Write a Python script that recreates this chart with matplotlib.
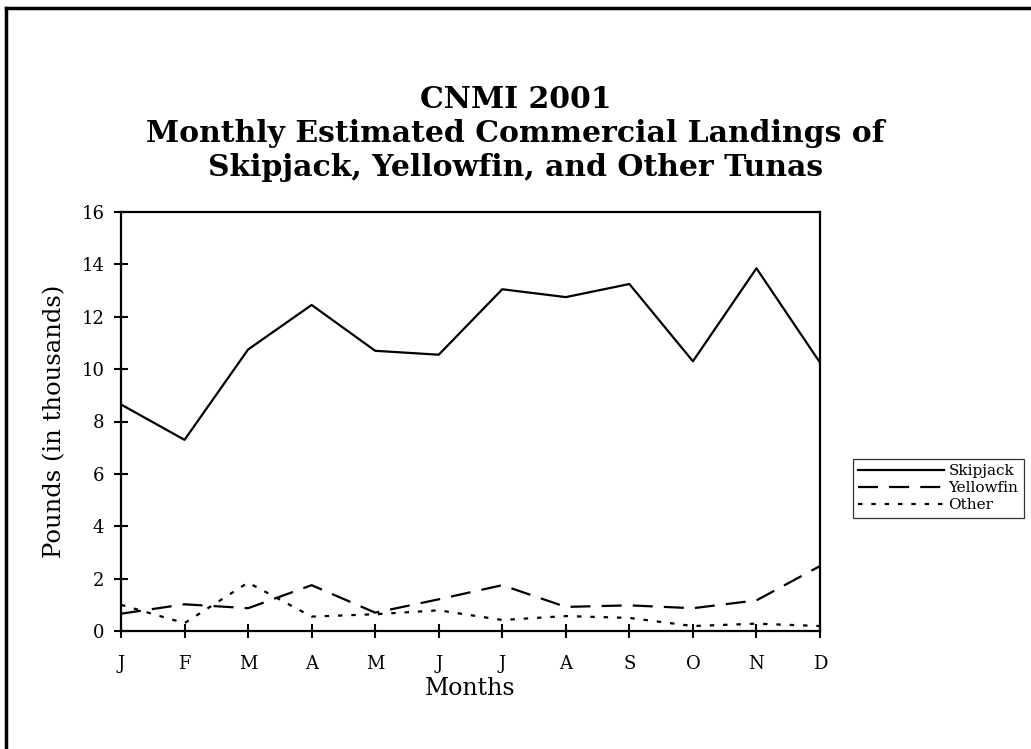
import numpy as np
import matplotlib
matplotlib.use("Agg")
import matplotlib.pyplot as plt
from matplotlib.lines import Line2D

months = ['J', 'F', 'M', 'A', 'M', 'J', 'J', 'A', 'S', 'O', 'N', 'D']
skipjack = [8.65, 7.3, 10.75, 12.45, 10.7, 10.55, 13.05, 12.75, 13.25, 10.3, 13.85, 10.25]
yellowfin = [0.66, 1.02, 0.87, 1.75, 0.7, 1.21, 1.75, 0.92, 0.98, 0.87, 1.17, 2.48]
other = [1.0, 0.3, 1.85, 0.55, 0.64, 0.79, 0.42, 0.57, 0.5, 0.19, 0.28, 0.19]

plt.rcParams['font.family'] = 'DejaVu Serif'

fig = plt.figure(figsize=(10.31, 7.49), dpi=100)
ax = fig.add_axes([121/1031, 1 - 631/749, (820-121)/1031, (631-212)/749])

x = np.arange(len(months))
ax.plot(x, skipjack, color='black', lw=1.6, label='Skipjack')
ax.plot(x, yellowfin, color='black', lw=1.6, dashes=(9, 5), label='Yellowfin')
ax.plot(x, other, color='black', lw=1.6, dashes=(2, 4), label='Other')

ax.set_xlim(0, 11)
ax.set_ylim(0, 16)
ax.set_yticks(range(0, 17, 2))
ax.set_xticks(x)
ax.set_xticklabels(months)
ax.tick_params(axis='both', direction='inout', length=10, width=1.5, labelsize=13)
ax.tick_params(axis='x', pad=12)
ax.tick_params(axis='y', pad=7)
for s in ax.spines.values():
    s.set_linewidth(1.6)

ax.set_xlabel('Months', fontsize=17, labelpad=3)
ax.set_ylabel('Pounds (in thousands)', fontsize=17.5, labelpad=11)

fig.text(0.5, 1 - 100/749, 'CNMI 2001', ha='center', va='center', fontsize=21.5, fontweight='bold')
fig.text(0.5, 1 - 134/749, 'Monthly Estimated Commercial Landings of', ha='center', va='center',
         fontsize=21.5, fontweight='bold')
fig.text(0.5, 1 - 168/749, 'Skipjack, Yellowfin, and Other Tunas', ha='center', va='center',
         fontsize=21.5, fontweight='bold')

leg = fig.legend(loc='upper left', bbox_to_anchor=(853/1031, 1 - 459/749), fontsize=11,
                 frameon=True, fancybox=False, edgecolor='black', handlelength=5.6,
                 handletextpad=0.3, borderpad=0.35, labelspacing=0.2, borderaxespad=0)
leg.get_frame().set_linewidth(0.9)

# page frame
fig.add_artist(Line2D([6/1031, 6/1031], [0, 1 - 8/749], color='black', lw=2.5))
fig.add_artist(Line2D([6/1031, 1], [1 - 8/749, 1 - 8/749], color='black', lw=2.5))

fig.savefig('out.png', dpi=100)
